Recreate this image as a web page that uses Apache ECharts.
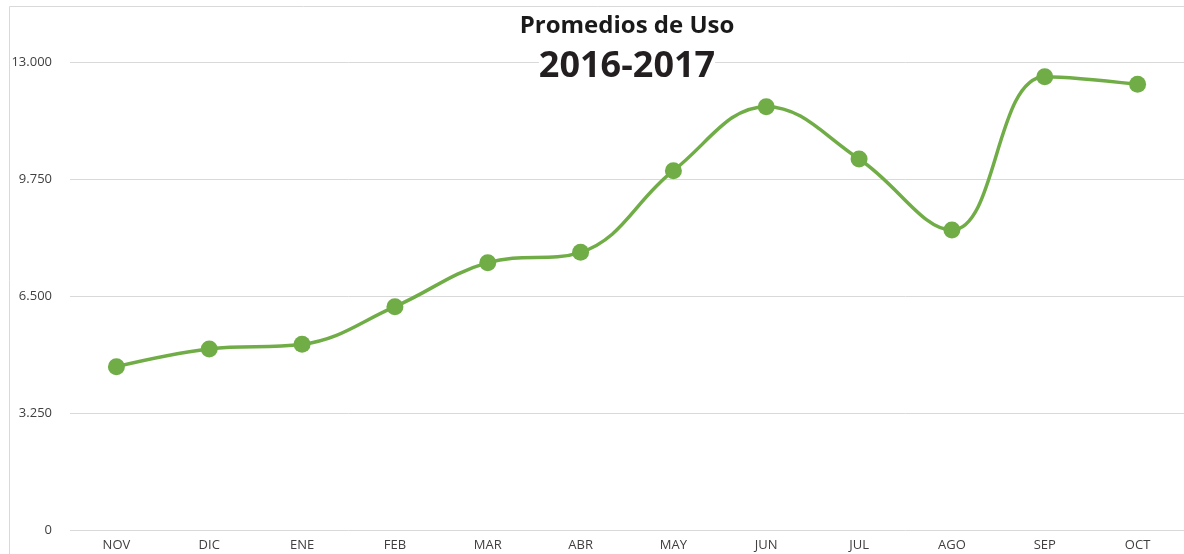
<!DOCTYPE html>
<html>
<head>
<meta charset="utf-8">
<script src="https://cdn.jsdelivr.net/npm/echarts@6/dist/echarts.min.js"></script>
<style>
html,body{margin:0;padding:0;background:#fff;}
#c{width:1184px;height:554px;}
</style>
</head>
<body>
<div id="c"></div>
<script>
var titleMain = 'Promedios de Uso';
var titleSub = '2016-2017';
var categories = ['NOV','DIC','ENE','FEB','MAR','ABR','MAY','JUN','JUL','AGO','SEP','OCT'];
var values = [4537, 5028, 5158, 6204, 7426, 7713, 9981, 11759, 10306, 8333, 12593, 12380];
var yMin = 0, yMax = 13000, yInterval = 3250;

function fmt(v){
  return String(v).replace(/\B(?=(\d{3})+(?!\d))/g, '.');
}

var chart = echarts.init(document.getElementById('c'), null, {renderer:'canvas'});
chart.setOption({
  animation: false,
  backgroundColor: '#ffffff',
  graphic: [{
    type: 'rect',
    shape: {x: 9.5, y: 6.5, width: 1190, height: 600},
    style: {fill: 'none', stroke: '#d9d9d9', lineWidth: 1},
    silent: true, z: -1
  },{
    type: 'text',
    x: 627, y: 14, z: 100,
    style: {text: titleMain, fontFamily: 'Open Sans', fontWeight: 'bold', fontSize: 24, fill: '#1a1a1a', align: 'center', verticalAlign: 'top'},
    silent: true
  },{
    type: 'text',
    x: 627, y: 49, z: 100,
    style: {text: titleSub, fontFamily: 'Open Sans', fontWeight: 'bold', fontSize: 36, fill: '#231f20', align: 'center', verticalAlign: 'top', backgroundColor: '#ffffff', padding: [0, 0]},
    silent: true
  }],
  grid: {left: 70, right: 0, top: 62, bottom: 24, containLabel: false},
  xAxis: {
    type: 'category',
    data: categories,
    boundaryGap: true,
    axisLine: {show: false},
    axisTick: {show: false},
    axisLabel: {fontFamily: 'Open Sans', fontSize: 13, color: '#404040', margin: 9}
  },
  yAxis: {
    type: 'value',
    min: yMin, max: yMax, interval: yInterval,
    axisLine: {show: false},
    axisTick: {show: false},
    splitLine: {lineStyle: {color: '#d9d9d9', width: 1}},
    axisLabel: {fontFamily: 'Open Sans', fontSize: 13, color: '#404040', margin: 18, formatter: fmt}
  },
  series: [{
    type: 'line',
    data: values,
    smooth: 0.4,
    symbol: 'circle',
    symbolSize: 17,
    lineStyle: {color: '#70ad47', width: 3.5},
    itemStyle: {color: '#70ad47'}
  }]
});
</script>
</body>
</html>
